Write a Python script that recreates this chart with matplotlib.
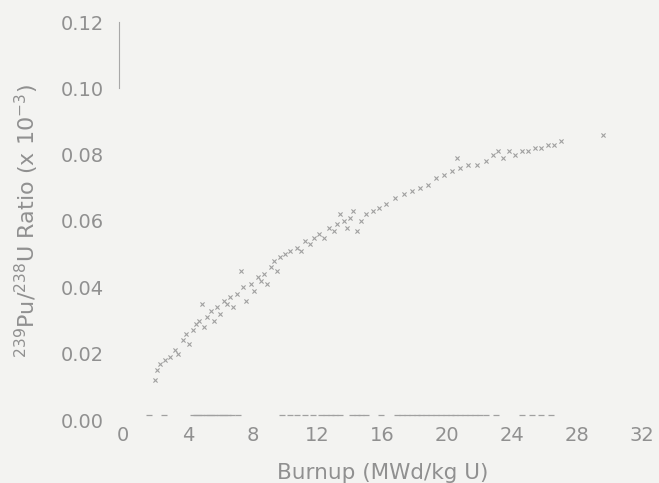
import matplotlib
matplotlib.use("Agg")
import matplotlib.pyplot as plt

# Data
burnup = [2.0, 2.1, 2.3, 2.6, 2.9, 3.2, 3.4, 3.7, 3.9, 4.1, 4.3, 4.5, 4.7, 4.9, 5.0,
          5.2, 5.4, 5.6, 5.8, 6.0, 6.2, 6.4, 6.6, 6.8, 7.0, 7.3, 7.4, 7.6, 7.9, 8.1,
          8.3, 8.5, 8.7, 8.9, 9.1, 9.3, 9.5, 9.7, 10.0, 10.3, 10.7, 11.0, 11.2, 11.5,
          11.8, 12.1, 12.4, 12.7, 13.0, 13.2, 13.4, 13.6, 13.8, 14.0, 14.2, 14.4,
          14.7, 15.0, 15.4, 15.8, 16.2, 16.8, 17.3, 17.8, 18.3, 18.8, 19.3, 19.8,
          20.3, 20.6, 20.8, 21.3, 21.8, 22.4, 22.8, 23.1, 23.4, 23.8, 24.2, 24.6,
          25.0, 25.4, 25.8, 26.2, 26.6, 27.0, 29.6]
ratio = [0.012, 0.015, 0.017, 0.018, 0.019, 0.021, 0.020, 0.024, 0.026, 0.023, 0.027,
         0.029, 0.030, 0.035, 0.028, 0.031, 0.033, 0.030, 0.034, 0.032, 0.036, 0.035,
         0.037, 0.034, 0.038, 0.045, 0.040, 0.036, 0.041, 0.039, 0.043, 0.042, 0.044,
         0.041, 0.046, 0.048, 0.045, 0.049, 0.050, 0.051, 0.052, 0.051, 0.054, 0.053,
         0.055, 0.056, 0.055, 0.058, 0.057, 0.059, 0.062, 0.060, 0.058, 0.061, 0.063,
         0.057, 0.060, 0.062, 0.063, 0.064, 0.065, 0.067, 0.068, 0.069, 0.070, 0.071,
         0.073, 0.074, 0.075, 0.079, 0.076, 0.077, 0.077, 0.078, 0.080, 0.081, 0.079,
         0.081, 0.080, 0.081, 0.081, 0.082, 0.082, 0.083, 0.083, 0.084, 0.086]

zero_burnup = [1.6, 2.5, 4.3, 4.5, 4.7, 4.9, 5.1, 5.3, 5.5, 5.7, 5.9, 6.1, 6.3, 6.5,
               6.7, 7.1, 9.8, 10.3, 10.7, 11.2, 11.7, 12.2, 12.5, 12.8, 13.1, 13.4,
               14.1, 14.4, 14.7, 15.0, 15.9, 16.9, 17.2, 17.5, 17.8, 18.1, 18.4, 18.7,
               19.0, 19.3, 19.6, 19.9, 20.2, 20.5, 20.8, 21.1, 21.4, 21.7, 22.0, 22.4,
               23.0, 24.6, 25.2, 25.8, 26.4]
zero_ratio = [0.0015] * len(zero_burnup)

x_ticks = [0, 4, 8, 12, 16, 20, 24, 28, 32]
y_ticks = [0.00, 0.02, 0.04, 0.06, 0.08, 0.10, 0.12]

bg = "#f3f3f1"
txt = "#909090"
mk = "#a0a0a0"

fig = plt.figure(figsize=(6.59, 4.83), dpi=100, facecolor=bg)
ax = fig.add_axes([123 / 659, 1 - 420 / 483, (642 - 123) / 659, (420 - 22) / 483])
ax.set_facecolor(bg)

ax.scatter(burnup, ratio, marker="x", s=9, linewidths=0.8, color=mk, clip_on=False)
ax.scatter(zero_burnup, zero_ratio, marker="_", s=14, linewidths=0.9, color=mk, clip_on=False)

ax.set_xlim(0, 32)
ax.set_ylim(0, 0.12)
ax.set_xticks(x_ticks)
ax.set_xticklabels([str(v) for v in x_ticks])
ax.set_yticks(y_ticks)
ax.set_yticklabels([f"{v:.2f}" for v in y_ticks])
ax.tick_params(axis="both", length=0, labelsize=14, labelcolor=txt)
ax.tick_params(axis="x", pad=4)
ax.tick_params(axis="y", pad=11)

for s in ["top", "right", "bottom"]:
    ax.spines[s].set_visible(False)
ax.spines["left"].set_bounds(0.10, 0.12)
ax.spines["left"].set_color("#a8a8a8")
ax.spines["left"].set_linewidth(0.8)
ax.spines["left"].set_position(("data", -0.25))

ax.set_xlabel("Burnup (MWd/kg U)", fontsize=15.5, color=txt, labelpad=13)
ax.set_ylabel(r"$^{239}$Pu/$^{238}$U Ratio (x 10$^{-3}$)", fontsize=16, color=txt, labelpad=14)

fig.savefig("out.png", dpi=100, facecolor=bg)
